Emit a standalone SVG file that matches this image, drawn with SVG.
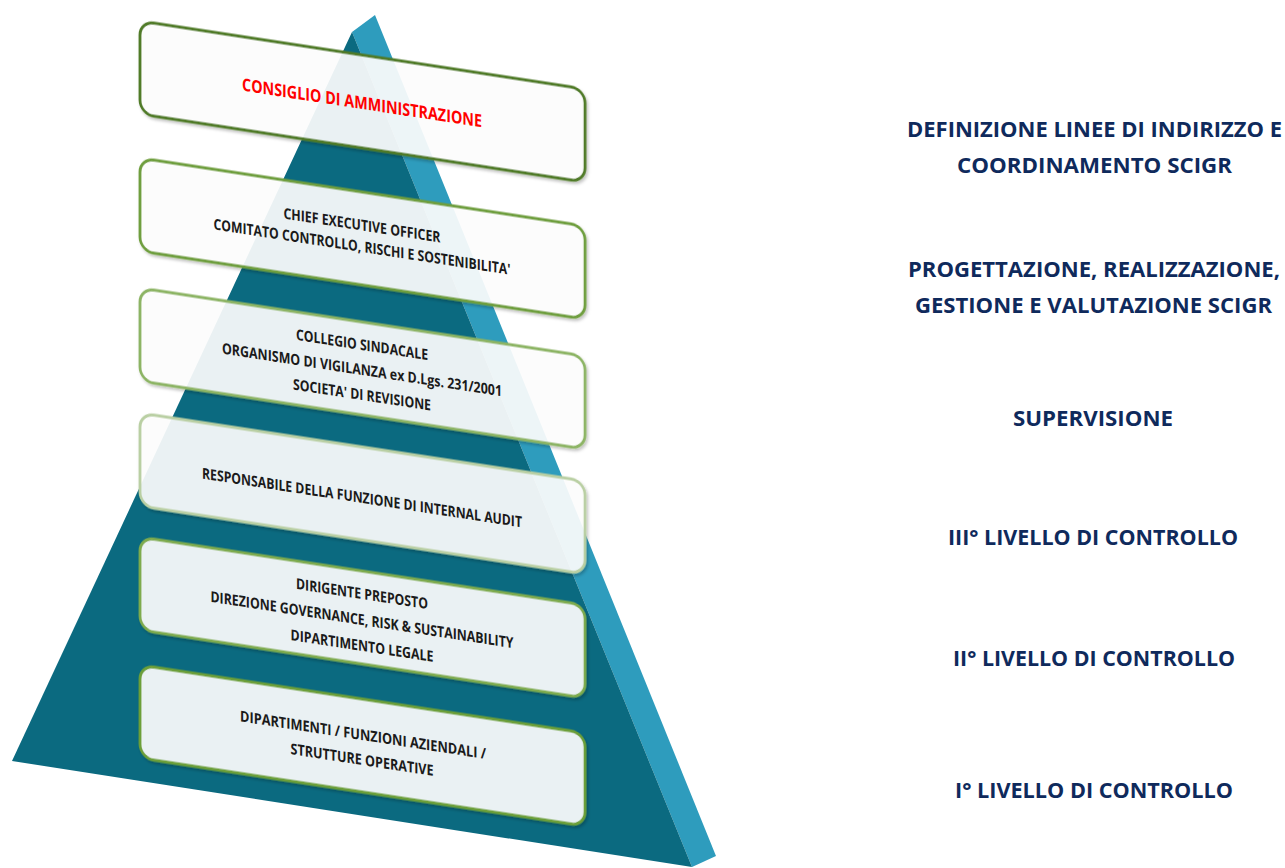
<svg xmlns="http://www.w3.org/2000/svg" width="1285" height="868" viewBox="0 0 1285 868">
<defs>
<style>
.box{fill:#ffffff;fill-opacity:0.9;stroke-width:2.8}
.t{font-family:"Open Sans","Liberation Sans",sans-serif;font-weight:bold;font-size:15px;fill:#1a1a1a;text-anchor:middle}
.r{font-family:"Open Sans","Liberation Sans",sans-serif;font-weight:bold;font-size:22px;fill:#0f2a5c;text-anchor:middle}
</style>
<filter id="sh" x="-5%" y="-10%" width="110%" height="130%">
<feDropShadow dx="1.5" dy="2" stdDeviation="1.5" flood-color="#000" flood-opacity="0.25"/>
</filter>
</defs>
<rect width="1285" height="868" fill="#ffffff"/>
<g id="pyramid">
<polygon points="352,32 375,15 716,856 692,867" fill="#2e9cbd"/>
<polygon points="352,32 692,867 12,761" fill="#0b6a80"/>
</g>
<g id="connectors"></g>
<g id="box1" transform="translate(140,21) skewY(8.7)">
<rect class="box" x="0" y="0" width="445" height="93" rx="14" stroke="#4f7a28" filter="url(#sh)"/>
<text x="222" y="54" font-family="Open Sans, Liberation Sans, sans-serif" font-weight="bold" font-size="17.5" fill="#ff0000" text-anchor="middle" textLength="240" lengthAdjust="spacingAndGlyphs">CONSIGLIO DI AMMINISTRAZIONE</text>
</g>
<g id="box2" transform="translate(140,158) skewY(8.7)">
<rect class="box" x="0" y="0" width="445" height="93" rx="14" stroke="#6e9e3c" filter="url(#sh)"/>
<text class="t" x="222" y="38.5" textLength="157" lengthAdjust="spacingAndGlyphs">CHIEF EXECUTIVE OFFICER</text>
<text class="t" x="222" y="60" textLength="297" lengthAdjust="spacingAndGlyphs">COMITATO CONTROLLO, RISCHI E SOSTENIBILITA'</text>
</g>
<g id="box3" transform="translate(140,288) skewY(8.7)">
<rect class="box" x="0" y="0" width="445" height="93" rx="14" stroke="#8cb464" filter="url(#sh)"/>
<text class="t" x="222" y="28" textLength="132" lengthAdjust="spacingAndGlyphs">COLLEGIO SINDACALE</text>
<text class="t" x="222" y="53" textLength="280" lengthAdjust="spacingAndGlyphs">ORGANISMO DI VIGILANZA ex D.Lgs. 231/2001</text>
<text class="t" x="222" y="78" textLength="138" lengthAdjust="spacingAndGlyphs">SOCIETA' DI REVISIONE</text>
</g>
<g id="box4" transform="translate(140,413) skewY(8.7)">
<rect class="box" x="0" y="0" width="445" height="93" rx="14" stroke="#b9cfa3" filter="url(#sh)"/>
<text class="t" x="222" y="56" textLength="320" lengthAdjust="spacingAndGlyphs">RESPONSABILE DELLA FUNZIONE DI INTERNAL AUDIT</text>
</g>
<g id="box5" transform="translate(140,537) skewY(8.7)">
<rect class="box" x="0" y="0" width="445" height="93" rx="14" stroke="#7eab4e" filter="url(#sh)"/>
<text class="t" x="222" y="28" textLength="132" lengthAdjust="spacingAndGlyphs">DIRIGENTE PREPOSTO</text>
<text class="t" x="222" y="54" textLength="303" lengthAdjust="spacingAndGlyphs">DIREZIONE GOVERNANCE, RISK &amp; SUSTAINABILITY</text>
<text class="t" x="222" y="80" textLength="143" lengthAdjust="spacingAndGlyphs">DIPARTIMENTO LEGALE</text>
</g>
<g id="box6" transform="translate(140,665) skewY(8.7)">
<rect class="box" x="0" y="0" width="445" height="93" rx="14" stroke="#6c9f38" filter="url(#sh)"/>
<text class="t" x="223" y="41" textLength="246" lengthAdjust="spacingAndGlyphs">DIPARTIMENTI / FUNZIONI AZIENDALI /</text>
<text class="t" x="222" y="66" textLength="143" lengthAdjust="spacingAndGlyphs">STRUTTURE OPERATIVE</text>
</g>
<g id="labels">
<text class="r" x="1094.5" y="137" textLength="375" lengthAdjust="spacingAndGlyphs">DEFINIZIONE LINEE DI INDIRIZZO E</text>
<text class="r" x="1094.5" y="173" textLength="275" lengthAdjust="spacingAndGlyphs">COORDINAMENTO SCIGR</text>
<text class="r" x="1094" y="277" textLength="372" lengthAdjust="spacingAndGlyphs">PROGETTAZIONE, REALIZZAZIONE,</text>
<text class="r" x="1093.5" y="313" textLength="357" lengthAdjust="spacingAndGlyphs">GESTIONE E VALUTAZIONE SCIGR</text>
<text class="r" x="1093" y="426" textLength="160" lengthAdjust="spacingAndGlyphs">SUPERVISIONE</text>
<text class="r" x="1093" y="545" textLength="290" lengthAdjust="spacingAndGlyphs">III° LIVELLO DI CONTROLLO</text>
<text class="r" x="1094" y="666" textLength="282" lengthAdjust="spacingAndGlyphs">II° LIVELLO DI CONTROLLO</text>
<text class="r" x="1094" y="798" textLength="278" lengthAdjust="spacingAndGlyphs">I° LIVELLO DI CONTROLLO</text>
</g>
</svg>
